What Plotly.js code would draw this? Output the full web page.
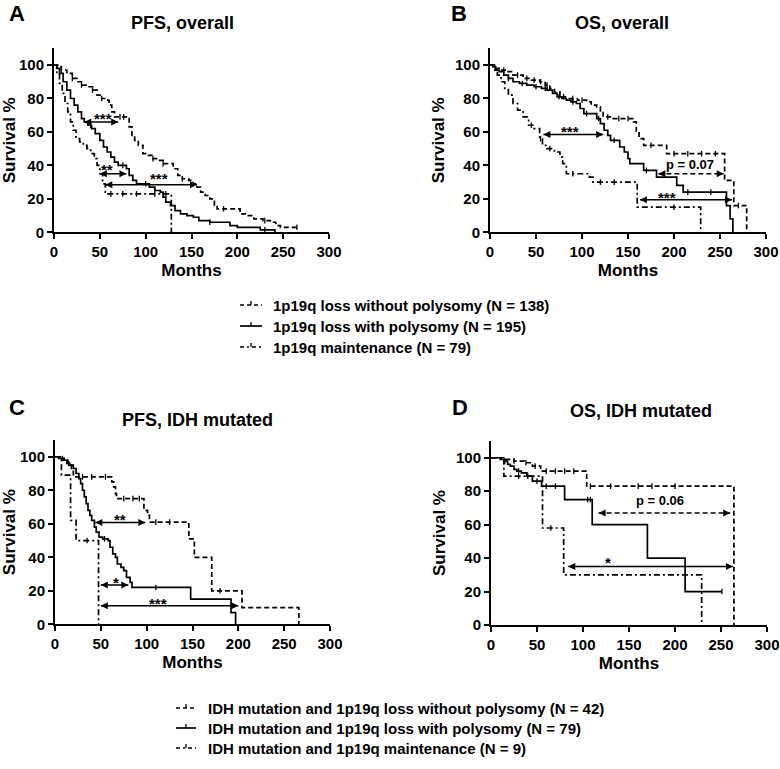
<!DOCTYPE html>
<html>
<head>
<meta charset="utf-8">
<script src="https://cdn.plot.ly/plotly-3.0.1.min.js"></script>
<style>html,body{margin:0;padding:0;background:#fff;}#chart{width:780px;height:769px;}</style>
</head>
<body>
<div id="chart"></div>
<script>
// ---------- DATA ----------
const monthTicks = [0, 50, 100, 150, 200, 250, 300];
const survTicks = [0, 20, 40, 60, 80, 100];

// Panel A: PFS, overall  (wo = without polysomy, w = with polysomy, m = maintenance)
const A_woT = [0,4,8,14,20,25,30,36,42,47,52,57,60,63,66,79,82,85,88,92,97,102,108,114,119,130,135,140,147,152,156,160,165,170,175,178,203,212,218,228,236,242,247,265];
const A_woS = [100,99,97,95,92,90,88,87,85,82,80,79,76,72,69,69,63,58,55,52,47,46,44,43,41,38,34,32,31,29,27,24,22,20,16,14,11,10,8,7,6,4,3,3];
const A_wT = [0,3,6,10,14,18,22,26,30,33,37,41,45,50,54,58,62,66,70,79,82,86,90,104,110,116,119,122,127,132,138,145,152,158,170,192,200,225,241];
const A_wS = [100,98,95,90,85,80,76,72,68,66,64,62,59,55,51,48,45,42,40,38,34,31,29,27,25,24,21,18,16,13,11,10,9,7,6,4,3,1.5,0];
const A_mT = [0,3,6,9,12,15,18,21,24,28,32,36,40,44,47,50,53,56,58,128];
const A_mS = [100,95,89,83,77,72,66,61,56,54,52,50,47,44,40,35,29,24,23,0];
const A_woCens = [8,20,30,42,52,72,76,108,119,140,185,230,265];
const A_wCens = [40,75,100,170,230];
const A_mCens = [62,75,90,110,122];

// Panel B: OS, overall
const B_woT = [0,5,10,18,25,36,45,54,60,65,70,76,82,95,105,110,116,120,123,134,156,159,162,167,189,192,255,265,279];
const B_woS = [100,98,97,96,94,92,91,90,88,86,84,81,80,79,78,76,75,72,69,68,66,60,56,52,52,47,31,16,0];
const B_wT = [0,3,6,10,15,20,25,32,40,48,56,62,68,73,78,83,88,94,98,102,116,120,124,128,131,141,146,150,152,167,181,203,210,257,261,264];
const B_wS = [100,99,97,96,94,92,90,89,88,87,86,85,83,81,80,79,78,77,74,71,68,65,61,58,55,51,48,44,41,37,33,28,24,16,8,0];
const B_mT = [0,4,8,12,16,20,25,30,36,42,48,54,57,62,70,76,79,83,108,112,160,229];
const B_mS = [100,97,94,90,86,82,77,73,69,64,62,56,52,50,48,45,41,35,33,30,15,0];
const B_woCens = [15,30,40,48,55,62,80,90,100,128,140,150,175,200,215,230,245,270];
const B_wCens = [20,35,50,60,75,90,105,118,135,170,215,240];
const B_mCens = [45,55,65,90,120,135,200];

// Panel C: PFS, IDH mutated
const C_woT = [0,5,10,14,18,20,62,64,66,67,97,101,103,146,152,171,204,266];
const C_woS = [100,99,98,96,93,88,85,82,78,75,68,65,61,51,40,20,10,0];
const C_wT = [0,4,9,13,16,20,23,26,28,30,32,34,36,38,40,43,45,48,52,58,60,63,66,68,72,75,78,82,84,148,192,197];
const C_wS = [100,99,98,96,95,93,90,87,84,80,76,72,68,65,62,58,55,52,51,50,46,42,40,36,34,32,28,25,22,15,7,0];
const C_mT = [0,7,17,23,47.5];
const C_mS = [100,89,62,50,0];
const C_woCens = [30,40,55,75,85,92,110,125,180];
const C_wCens = [8,15,54,110];
const C_mCens = [35];

// Panel D: OS, IDH mutated
const D_woT = [0,14,25,36,45,54,104,264];
const D_woS = [100,99,98,97,95,92,83,0];
const D_wT = [0,10,14,18,21,25,28,33,39,45,55,80,110,170,211,251];
const D_wS = [100,99,98,96,95,93,92,91,89,86,83,75,60,40,20,20];
const D_mT = [0,14,56,79,229];
const D_mS = [100,89,58,30,0];
const D_woCens = [25,38,48,60,70,80,90,108,130,160,175,200];
const D_wCens = [15,30,50,60,70,105,108,251];
const D_mCens = [30,40,65];

// Comparison arrows (x from, x to, y), labels
const A_arrX0 = [33,50,56], A_arrX1 = [70,79,156], A_arrY = [66,35,28.4];
const A_lab = ['***','**','***'], A_labX = [53,57.5,114], A_labY = [70.4,40,34.4], A_dash = [0,0,0];
const B_arrX0 = [58,183,163], B_arrX1 = [123,254,263], B_arrY = [58.4,35,19.4];
const B_lab = ['***','p = 0.07','***'], B_labX = [87,217,192], B_labY = [62.4,40.5,23.4], B_dash = [0,1,0];
const C_arrX0 = [44,50,50], C_arrX1 = [98.5,80,200], C_arrY = [60.8,23.5,11];
const C_lab = ['**','*','***'], C_labX = [71,66,112], C_labY = [65.2,27.4,14.9], C_dash = [0,0,0];
const D_arrX0 = [117,84], D_arrX1 = [260,263], D_arrY = [67,35];
const D_lab = ['p = 0.06','*'], D_labX = [183.5,127.6], D_labY = [74.7,39.8], D_dash = [1,0];

const panelTitles = ['PFS, overall','OS, overall','PFS, IDH mutated','OS, IDH mutated'];
const panelLetters = ['A','B','C','D'];
const xTitle = 'Months', yTitle = 'Survival %';
const legendTop = ['1p19q loss without polysomy (N = 138)','1p19q loss with polysomy (N = 195)','1p19q maintenance (N = 79)'];
const legendBottom = ['IDH mutation and 1p19q loss without polysomy (N = 42)','IDH mutation and 1p19q loss with polysomy (N = 79)','IDH mutation and 1p19q maintenance (N = 9)'];

// ---------- STYLE ----------
const W = 780, H = 769;
const FONT = 'Liberation Sans, Arial, sans-serif';
const DASH = {wo: '5px,3px', w: 'solid', m: '6px,3px,2px,3px'};
const LW = 1.7;
const px = x => x / W, py = y => 1 - y / H;

function stepAt(T, S, t) { let v = S[0]; for (let i = 0; i < T.length; i++) if (T[i] <= t) v = S[i]; return v; }

const panels = [
  {id: '', T: [A_woT, A_wT, A_mT], S: [A_woS, A_wS, A_mS], C: [A_woCens, A_wCens, A_mCens],
   arr: [A_arrX0, A_arrX1, A_arrY, A_lab, A_labX, A_labY, A_dash]},
  {id: '2', T: [B_woT, B_wT, B_mT], S: [B_woS, B_wS, B_mS], C: [B_woCens, B_wCens, B_mCens],
   arr: [B_arrX0, B_arrX1, B_arrY, B_lab, B_labX, B_labY, B_dash]},
  {id: '3', T: [C_woT, C_wT, C_mT], S: [C_woS, C_wS, C_mS], C: [C_woCens, C_wCens, C_mCens],
   arr: [C_arrX0, C_arrX1, C_arrY, C_lab, C_labX, C_labY, C_dash]},
  {id: '4', T: [D_woT, D_wT, D_mT], S: [D_woS, D_wS, D_mS], C: [D_woCens, D_wCens, D_mCens],
   arr: [D_arrX0, D_arrX1, D_arrY, D_lab, D_labX, D_labY, D_dash]}
];
const keys = ['wo', 'w', 'm'];

// domains in pixels: [x0, x1, yTop, yBottom]
const dom = [[54, 329, 48.3, 232.3], [490, 766, 48.3, 232.3], [55, 330, 440, 624.3], [491, 767, 441, 625]];
const titlePos = [[182, 23], [622, 23], [197, 420], [641, 411]];
const letterPos = [[17, 13], [459, 13], [17, 407], [460, 407]];

const traces = [];
const annotations = [];
const shapes = [];
const layout = {
  width: W, height: H, margin: {l: 0, r: 0, t: 0, b: 0},
  paper_bgcolor: '#fff', plot_bgcolor: '#fff', showlegend: false,
  font: {family: FONT, color: '#000'}
};

panels.forEach((p, k) => {
  const xa = 'x' + p.id, ya = 'y' + p.id;
  for (let s = 0; s < 3; s++) {
    traces.push({type: 'scatter', mode: 'lines', x: p.T[s], y: p.S[s], xaxis: xa, yaxis: ya,
      line: {shape: 'hv', color: '#000', width: LW, dash: DASH[keys[s]]}, hoverinfo: 'skip'});
    traces.push({type: 'scatter', mode: 'markers', x: p.C[s], y: p.C[s].map(t => stepAt(p.T[s], p.S[s], t)),
      xaxis: xa, yaxis: ya, cliponaxis: false,
      marker: {symbol: 'line-ns', size: 4, color: '#000', line: {color: '#000', width: 1.3}}, hoverinfo: 'skip'});
  }
  const [x0, x1, yy, lab, lx, ly, dsh] = p.arr;
  for (let i = 0; i < x0.length; i++) {
    traces.push({type: 'scatter', mode: 'lines+markers', x: [x0[i], x1[i]], y: [yy[i], yy[i]], xaxis: xa, yaxis: ya,
      cliponaxis: false, line: {color: '#000', width: 1.5, dash: dsh[i] ? '5px,3px' : 'solid'},
      marker: {symbol: ['arrow-left', 'arrow-right'], size: 7, color: '#000'}, hoverinfo: 'skip'});
    const isStar = lab[i].indexOf('*') === 0;
    annotations.push({xref: xa, yref: ya, x: lx[i], y: ly[i], text: lab[i], showarrow: false,
      xanchor: 'center', yanchor: 'middle', yshift: isStar ? -4 : 0,
      font: {family: FONT, size: isStar ? 15 : 13, color: '#000', weight: 'bold'}});
  }
  const d = dom[k];
  const axBase = {showgrid: false, zeroline: false, showline: true, linecolor: '#000', linewidth: 2,
    ticks: 'outside', ticklen: 5, tickwidth: 2, tickcolor: '#000', automargin: false,
    tickfont: {family: FONT, size: 15, color: '#000', weight: 'bold'}};
  layout['xaxis' + p.id] = Object.assign({}, axBase, {
    domain: [px(d[0]), px(d[1])], range: [0, 300], tickvals: monthTicks, ticktext: monthTicks.map(String),
    anchor: ya, title: {text: xTitle, standoff: 5, font: {family: FONT, size: 17, color: '#000', weight: 'bold'}}});
  layout['yaxis' + p.id] = Object.assign({}, axBase, {
    domain: [py(d[3]), py(d[2])], range: [0, 110], tickvals: survTicks, ticktext: survTicks.map(String),
    anchor: xa, title: {text: yTitle, standoff: 6, font: {family: FONT, size: 17, color: '#000', weight: 'bold'}}});
  annotations.push({xref: 'paper', yref: 'paper', x: px(titlePos[k][0]), y: py(titlePos[k][1]), text: panelTitles[k],
    showarrow: false, xanchor: 'center', yanchor: 'middle', font: {family: FONT, size: 18, color: '#000', weight: 'bold'}});
  annotations.push({xref: 'paper', yref: 'paper', x: px(letterPos[k][0]), y: py(letterPos[k][1]), text: panelLetters[k],
    showarrow: false, xanchor: 'center', yanchor: 'middle', font: {family: FONT, size: 22, color: '#000', weight: 'bold'}});
});

// ---------- LEGENDS (manual) ----------
function legendBlock(labels, symX0, symX1, textX, rows) {
  labels.forEach((t, i) => {
    const y = rows[i];
    shapes.push({type: 'line', xref: 'paper', yref: 'paper', x0: px(symX0), x1: px(symX1), y0: py(y), y1: py(y),
      line: {color: '#000', width: LW, dash: i === 0 ? '4px,3px' : i === 1 ? 'solid' : '4px,3px,2px,3px'}});
    const mx = (symX0 + symX1) / 2;
    shapes.push({type: 'line', xref: 'paper', yref: 'paper', x0: px(mx), x1: px(mx), y0: py(y), y1: py(y - 4),
      line: {color: '#000', width: 1.3}});
    annotations.push({xref: 'paper', yref: 'paper', x: px(textX), y: py(y), text: t, showarrow: false,
      xanchor: 'left', yanchor: 'middle', font: {family: FONT, size: 15, color: '#000', weight: 'bold'}});
  });
}
legendBlock(legendTop, 240, 262, 271, [305, 326, 347]);
legendBlock(legendBottom, 176, 196, 206, [708, 728, 748]);

layout.annotations = annotations;
layout.shapes = shapes;
Plotly.newPlot('chart', traces, layout, {displayModeBar: false, staticPlot: true});
</script>
</body>
</html>
